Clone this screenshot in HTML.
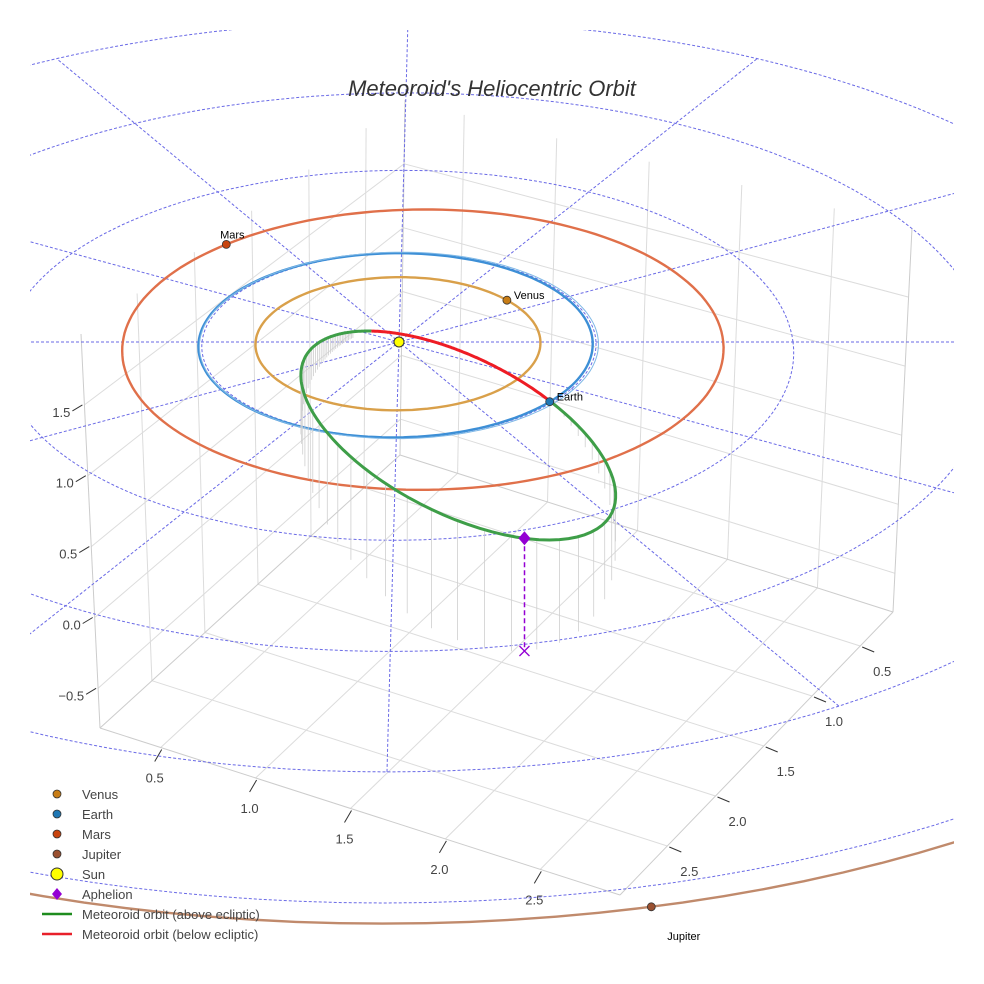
<!DOCTYPE html>
<html><head><meta charset="utf-8"><title>Meteoroid's Heliocentric Orbit</title>
<style>html,body{margin:0;padding:0;background:#fff;width:984px;height:984px;overflow:hidden}svg{display:block;font-family:"Liberation Sans",sans-serif}</style>
</head><body>
<svg id="chart" width="984" height="984" viewBox="0 0 984 984" xmlns="http://www.w3.org/2000/svg">
<defs><clipPath id="sceneClip"><rect x="30" y="30" width="924" height="924"/></clipPath></defs>
<rect width="984" height="984" fill="#fff"/>
<g id="box"></g>
<g id="scene" clip-path="url(#sceneClip)"></g>
<text x="492" y="96" text-anchor="middle" font-size="22" font-style="italic" fill="#333">Meteoroid's Heliocentric Orbit</text>
<g id="legend"></g>
</svg>
<script>
// ---- data ----
const xTicks=[0.5,1.0,1.5,2.0,2.5];
const yTicks=[0.5,1.0,1.5,2.0,2.5];
const zTicks=[-0.5,0.0,0.5,1.0,1.5];
const planetNames=['Venus','Earth','Mars','Jupiter'];
const planetA=[0.723,1.0,1.524,5.15];
const planetE=[0.007,0.017,0.08,0.0];
const planetPeriDeg=[0,0,180,0];
const planetAngleDeg=[40,-40,130,-77.5];
const gridRadii=[1,2,3,4,5];
const gridAnglesDeg=[0,30,60,90,120,150];
const meteorQ=0.165, meteorE=0.90, meteorIncDeg=20, meteorNodeDeg=-40;

const NS='http://www.w3.org/2000/svg';
function mk(tag,attrs,parent){const e=document.createElementNS(NS,tag);for(const k in attrs)e.setAttribute(k,attrs[k]);parent.appendChild(e);return e;}
const box=document.getElementById('box'),scene=document.getElementById('scene'),legend=document.getElementById('legend');

// ---- 3D box (trilinear) ----
const xr=[0.18,2.92],yr=[0.16,2.99],zr=[-0.78,2.0];
const F={D:[400,455],C:[893,612],A:[100,728],B:[620,895]};
const T={D:[405,100],C:[912,228],A:[81,334],B:[615,478]};
function L(p,q,t){return [p[0]+(q[0]-p[0])*t,p[1]+(q[1]-p[1])*t];}
function bil(S,u,v){return L(L(S.D,S.C,u),L(S.A,S.B,u),v);}
function BX(x,y,z){const u=(x-xr[0])/(xr[1]-xr[0]),v=(y-yr[0])/(yr[1]-yr[0]),w=(z-zr[0])/(zr[1]-zr[0]);return L(bil(F,u,v),bil(T,u,v),w);}
function seg(p,q,parent,stroke,w){return mk('line',{x1:p[0].toFixed(1),y1:p[1].toFixed(1),x2:q[0].toFixed(1),y2:q[1].toFixed(1),stroke:stroke,'stroke-width':w||1},parent);}
xTicks.forEach(x=>{let e=seg(BX(x,yr[0],zr[0]),BX(x,yr[1],zr[0]),box,'#dcdcdc');
 e=seg(BX(x,yr[0],zr[0]),BX(x,yr[0],zr[1]),box,'#dcdcdc');});
yTicks.forEach(y=>{let e=seg(BX(xr[0],y,zr[0]),BX(xr[1],y,zr[0]),box,'#dcdcdc');
 e=seg(BX(xr[0],y,zr[0]),BX(xr[0],y,zr[1]),box,'#dcdcdc');});
zTicks.forEach(z=>{let e=seg(BX(xr[0],yr[0],z),BX(xr[0],yr[1],z),box,'#dcdcdc');
 e=seg(BX(xr[0],yr[0],z),BX(xr[1],yr[0],z),box,'#dcdcdc');});
[[BX(xr[0],yr[1],zr[0]),BX(xr[1],yr[1],zr[0])],[BX(xr[1],yr[1],zr[0]),BX(xr[1],yr[0],zr[0])],[BX(xr[0],yr[0],zr[0]),BX(xr[0],yr[1],zr[0])],[BX(xr[0],yr[0],zr[0]),BX(xr[1],yr[0],zr[0])],
 [BX(xr[0],yr[1],zr[0]),BX(xr[0],yr[1],zr[1])],[BX(xr[1],yr[0],zr[0]),BX(xr[1],yr[0],zr[1])],[BX(xr[0],yr[0],zr[0]),BX(xr[0],yr[0],zr[1])]].forEach(s=>{const e=seg(s[0],s[1],box,'#cccccc');});
xTicks.forEach(x=>{const p=BX(x,yr[1],zr[0]);const t=seg([p[0]+1,p[1]+2],[p[0]-6,p[1]+14],box,'#333');
 const l=mk('text',{x:(p[0]-6).toFixed(1),y:(p[1]+35).toFixed(1),'text-anchor':'middle','font-size':13,fill:'#444'},box);l.textContent=x.toFixed(1);});
yTicks.forEach(y=>{const p=BX(xr[1],y,zr[0]);const t=seg([p[0]+2,p[1]+1],[p[0]+14,p[1]+6],box,'#333');
 const l=mk('text',{x:(p[0]+22).toFixed(1),y:(p[1]+30).toFixed(1),'text-anchor':'middle','font-size':13,fill:'#444'},box);l.textContent=y.toFixed(1);});
zTicks.forEach(z=>{const p=BX(xr[0],yr[1],z);const t=seg([p[0]-2,p[1]],[p[0]-12,p[1]+6],box,'#333');
 const l=mk('text',{x:(p[0]-14).toFixed(1),y:(p[1]+12).toFixed(1),'text-anchor':'end','font-size':13,fill:'#444'},box);l.textContent=(z<0?'\u2212'+Math.abs(z).toFixed(1):z.toFixed(1));});

// ---- ecliptic projection ----
const SX=399,SY=342,KX=197,KY=92,KZ=145,PER=0.036,SKEW=-0.028;
function P(X,Y,Z){const f=1/(1+PER*Y);const gy=-KY*Y*f;return [SX+KX*X*f+SKEW*gy,SY+gy-KZ*(Z||0)*f];}
function pathFrom(pts){return pts.map((p,i)=>(i?'L':'M')+p[0].toFixed(1)+' '+p[1].toFixed(1)).join(' ');}
function circlePts(r){const a=[];for(let i=0;i<=360;i+=2){const t=i*Math.PI/180;a.push(P(r*Math.cos(t),r*Math.sin(t),0));}return a;}
function orbitXY(a,e,peri,thetaDeg){const t=thetaDeg*Math.PI/180,w=peri*Math.PI/180;const r=a*(1-e*e)/(1+e*Math.cos(t-w));return [r*Math.cos(t),r*Math.sin(t)];}
gridRadii.forEach(r=>{const e=mk('path',{d:pathFrom(circlePts(r)),fill:'none',stroke:'#6a6ae6','stroke-width':1,'stroke-dasharray':'3,2'},scene);});
gridAnglesDeg.forEach(a=>{const t=a*Math.PI/180,pts=[];for(let r=-4;r<=4.01;r+=0.25)pts.push(P(r*Math.cos(t),r*Math.sin(t),0));
 const e=mk('path',{d:pathFrom(pts),fill:'none',stroke:'#6a6ae6','stroke-width':1,'stroke-dasharray':'3,2'},scene);});
const orbitColors=['#d9a04a','#3d8fd6','#e0704a','#c08a6c'];
const markerColors=['#c87d16','#1f77b4','#c8440e','#9a5030'];
planetA.forEach((a,i)=>{const pts=[];for(let d=0;d<=360;d+=2){const q=orbitXY(a,planetE[i],planetPeriDeg[i],d);pts.push(P(q[0],q[1],0));}
 const e=mk('path',{d:pathFrom(pts),fill:'none',stroke:orbitColors[i],'stroke-width':2.4},scene);});
{const e=mk('path',{d:pathFrom(circlePts(1.012)),fill:'none',stroke:'#7fb8e6','stroke-width':1},scene);}

// ---- meteoroid orbit ----
const inc=meteorIncDeg*Math.PI/180,nd=meteorNodeDeg*Math.PI/180;
const n=[Math.cos(nd),Math.sin(nd)],m=[Math.cos(nd-Math.PI/2),Math.sin(nd-Math.PI/2)];
const pl=meteorQ*(1+meteorE);
const nuNode=Math.acos(((pl/1.0)-1)/meteorE);
function M3(u){const nu=nuNode+u;const r=pl/(1+meteorE*Math.cos(nu));const c=Math.cos(u),s=Math.sin(u);
 return [r*(c*n[0]+s*Math.cos(inc)*m[0]),r*(c*n[1]+s*Math.cos(inc)*m[1]),r*s*Math.sin(inc)];}
const green=[],red=[];
for(let d=0;d<=180;d+=1){const q=M3(d*Math.PI/180);green.push(P(q[0],q[1],q[2]));}
for(let d=180;d<=360;d+=1){const q=M3(d*Math.PI/180);red.push(P(q[0],q[1],q[2]));}
const drops=mk('g',{},scene);
for(let d=4;d<150;d+=2.2){const q=M3(d*Math.PI/180);const a=P(q[0],q[1],q[2]),b=P(q[0],q[1],0);const e=seg(a,b,drops,'#cfcfcf',0.8);}
let e=mk('path',{d:pathFrom(green),fill:'none',stroke:'#3e9e48','stroke-width':3},scene);
e=mk('path',{d:pathFrom(red),fill:'none',stroke:'#ee1c24','stroke-width':3},scene);
const ua=Math.PI-nuNode;const aq=M3(ua);const ap=P(aq[0],aq[1],aq[2]),ag=P(aq[0],aq[1],0);
e=seg(ap,ag,scene,'#9400d3',1.5);e.setAttribute('stroke-dasharray','5,3');
e=mk('path',{d:`M${ag[0]-5} ${ag[1]-5}L${ag[0]+5} ${ag[1]+5}M${ag[0]-5} ${ag[1]+5}L${ag[0]+5} ${ag[1]-5}`,stroke:'#9400d3','stroke-width':1.3},scene);
e=mk('path',{d:`M${ap[0]} ${ap[1]-7}L${ap[0]+6} ${ap[1]}L${ap[0]} ${ap[1]+7}L${ap[0]-6} ${ap[1]}Z`,fill:'#9400d3'},scene);
planetA.forEach((a,i)=>{const q=orbitXY(a,planetE[i],planetPeriDeg[i],planetAngleDeg[i]);const p=P(q[0],q[1],0);
 const c=mk('circle',{cx:p[0].toFixed(1),cy:p[1].toFixed(1),r:4,fill:markerColors[i],stroke:'#333','stroke-width':0.8},scene);
 const lb=i===3?mk('text',{x:(p[0]+16).toFixed(1),y:(p[1]+33).toFixed(1),'font-size':11,fill:'#000'},scene):(i===2?mk('text',{x:(p[0]+6).toFixed(1),y:(p[1]-6).toFixed(1),'text-anchor':'middle','font-size':11,fill:'#000'},scene):mk('text',{x:(p[0]+7).toFixed(1),y:(p[1]-1).toFixed(1),'font-size':11,fill:'#000'},scene));
 lb.textContent=planetNames[i];});
const sp=P(0,0,0);
e=mk('circle',{cx:sp[0],cy:sp[1],r:5,fill:'#ffff00',stroke:'#333','stroke-width':1},scene);

// ---- legend ----
const legNames=['Venus','Earth','Mars','Jupiter','Sun','Aphelion','Meteoroid orbit (above ecliptic)','Meteoroid orbit (below ecliptic)'];
legNames.forEach((nm,i)=>{const y=794+i*20;const g=mk('g',{},legend);
 if(i<4)mk('circle',{cx:57,cy:y,r:4,fill:markerColors[i],stroke:'#333','stroke-width':0.8},g);
 else if(i===4)mk('circle',{cx:57,cy:y,r:6,fill:'#ffff00',stroke:'#333','stroke-width':1},g);
 else if(i===5)mk('path',{d:`M57 ${y-6}L62 ${y}L57 ${y+6}L52 ${y}Z`,fill:'#9400d3'},g);
 else mk('line',{x1:42,y1:y,x2:72,y2:y,stroke:i===6?'#1e8c1e':'#e8202a','stroke-width':2.5},g);
 const t=mk('text',{x:82,y:y+5,'font-size':13,fill:'#444'},g);t.textContent=nm;});
</script>
</body></html>
